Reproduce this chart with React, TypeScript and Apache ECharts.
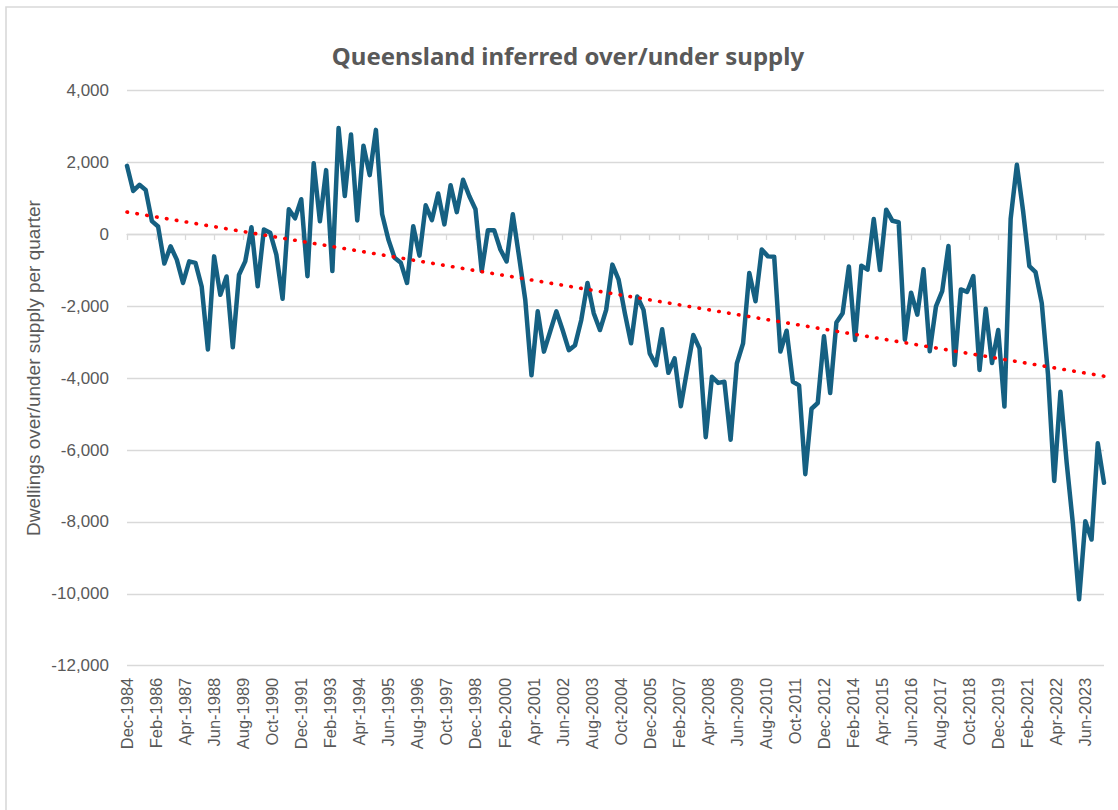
import React, { useEffect, useRef } from "react";
import * as echarts from "echarts";

// Tick labels every 14 months starting Dec-1984
const tickLabels = [
  "Dec-1984", "Feb-1986", "Apr-1987", "Jun-1988", "Aug-1989", "Oct-1990",
  "Dec-1991", "Feb-1993", "Apr-1994", "Jun-1995", "Aug-1996", "Oct-1997",
  "Dec-1998", "Feb-2000", "Apr-2001", "Jun-2002", "Aug-2003", "Oct-2004",
  "Dec-2005", "Feb-2007", "Apr-2008", "Jun-2009", "Aug-2010", "Oct-2011",
  "Dec-2012", "Feb-2014", "Apr-2015", "Jun-2016", "Aug-2017", "Oct-2018",
  "Dec-2019", "Feb-2021", "Apr-2022", "Jun-2023",
];

// Quarterly values, Dec-1984 .. Mar-2024 (dwellings over/under supply per quarter)
const supplyValues = [
  1910, 1210, 1380, 1240, 370, 220, -810, -330, -700, -1350,
  -750, -790, -1450, -3200, -610, -1680, -1170, -3140, -1120, -750,
  200, -1440, 140, 50, -560, -1790, 700, 450, 980, -1160,
  1980, 370, 1790, -1020, 2960, 1070, 2780, 390, 2470, 1650,
  2910, 560, -140, -650, -790, -1350, 230, -590, 810, 400,
  1140, 280, 1370, 620, 1520, 1070, 700, -1020, 120, 120,
  -420, -750, 560, -610, -1820, -3920, -2140, -3260, -2700, -2140,
  -2660, -3220, -3080, -2380, -1350, -2190, -2660, -2100, -840, -1260,
  -2190, -3030, -1725, -2100, -3310, -3640, -2640, -3850, -3450, -4780,
  -3780, -2800, -3170, -5640, -3960, -4130, -4100, -5710, -3590, -3030,
  -1070, -1860, -420, -610, -620, -3260, -2680, -4100, -4200, -6670,
  -4850, -4690, -2830, -4410, -2450, -2190, -890, -2940, -870, -980,
  430, -990, 690, 380, 340, -2930, -1620, -2230, -970, -3250,
  -2000, -1580, -320, -3630, -1530, -1600, -1160, -3770, -2070, -3580,
  -2660, -4790, 440, 1940, 650, -880, -1050, -1910, -3900, -6860,
  -4380, -6350, -8050, -10150, -7980, -8490, -5810, -6910,
];

// Linear trendline end values (first and last quarter)
const trendValues = [624, -3944];

const MONTHS_PER_QUARTER = 3;
const MONTHS_PER_TICK = 14;

const TEXT = "#595959";
const GRID = "#d9d9d9";

export default function App() {
  const ref = useRef<HTMLDivElement>(null);

  useEffect(() => {
    if (!ref.current) return;
    const chart = echarts.init(ref.current, null, { renderer: "svg" });
    const lastMonth = (supplyValues.length - 1) * MONTHS_PER_QUARTER;
    const tickValues = tickLabels.map((_, k) => k * MONTHS_PER_TICK);
    const fmtLabel = (v: number) => {
      const k = Math.round(v / MONTHS_PER_TICK);
      return Math.abs(k * MONTHS_PER_TICK - v) < 0.01 && tickLabels[k] ? tickLabels[k] : "";
    };

    chart.setOption({
      animation: false,
      backgroundColor: "#ffffff",
      textStyle: { fontFamily: "Liberation Sans" },
      grid: { left: 127, top: 90.7, width: 977, height: 575, containLabel: false },
      graphic: [
        {
          type: "rect",
          shape: { x: 6, y: 7, width: 1300, height: 1000 },
          style: { fill: "none", stroke: GRID, lineWidth: 1.6 },
          silent: true,
        },
        {
          type: "text",
          x: 568,
          y: 55,
          style: {
            text: "Queensland inferred over/under supply",
            fill: TEXT,
            font: "bold 24px 'Noto Sans'",
            align: "center",
            verticalAlign: "middle",
          },
        },
        {
          type: "text",
          x: 33.5,
          y: 368,
          rotation: Math.PI / 2,
          style: {
            text: "Dwellings over/under supply per quarter",
            fill: TEXT,
            font: "19px 'Liberation Sans'",
            align: "center",
            verticalAlign: "middle",
          },
        },
      ],
      xAxis: [
        {
          type: "value",
          min: 0,
          max: lastMonth,
          interval: MONTHS_PER_TICK,
          position: "bottom",
          axisLine: { show: false, onZero: false },
          axisTick: { show: false },
          splitLine: { show: false },
          axisLabel: {
            customValues: tickValues,
            rotate: 90,
            margin: 12,
            color: TEXT,
            fontSize: 16.5,
            fontFamily: "Liberation Sans",
            formatter: fmtLabel,
            hideOverlap: false,
          },
        },
        {
          type: "value",
          min: 0,
          max: lastMonth,
          interval: MONTHS_PER_TICK,
          position: "bottom",
          axisLine: { show: true, onZero: true, lineStyle: { color: GRID, width: 1.3 } },
          axisTick: {
            show: true,
            customValues: tickValues,
            length: 5.5,
            lineStyle: { color: GRID, width: 1.3 },
          },
          axisLabel: { show: false },
          splitLine: { show: false },
        },
      ],
      yAxis: {
        type: "value",
        min: -12000,
        max: 4000,
        interval: 2000,
        axisLine: { show: false },
        axisTick: { show: false },
        splitLine: { show: true, lineStyle: { color: GRID, width: 1.3 } },
        axisLabel: {
          color: TEXT,
          fontSize: 17,
          fontFamily: "Liberation Sans",
          margin: 18,
          formatter: (v: number) => v.toLocaleString("en-US"),
        },
      },
      series: [
        {
          type: "line",
          xAxisIndex: 0,
          data: supplyValues.map((v, i) => [i * MONTHS_PER_QUARTER, v]),
          symbol: "none",
          lineStyle: { color: "#156082", width: 4.5, join: "round", cap: "round" },
          z: 3,
        },
        {
          type: "line",
          xAxisIndex: 0,
          data: [
            [0, trendValues[0]],
            [lastMonth, trendValues[1]],
          ],
          symbol: "none",
          lineStyle: { color: "#ff0000", width: 3.6, type: [0.5, 9.5], cap: "round" },
          z: 4,
        },
      ],
    });

    return () => chart.dispose();
  }, []);

  return (
    <div
      ref={ref}
      style={{ position: "absolute", left: 0, top: 0, width: 1118, height: 810, background: "#fff" }}
    />
  );
}
